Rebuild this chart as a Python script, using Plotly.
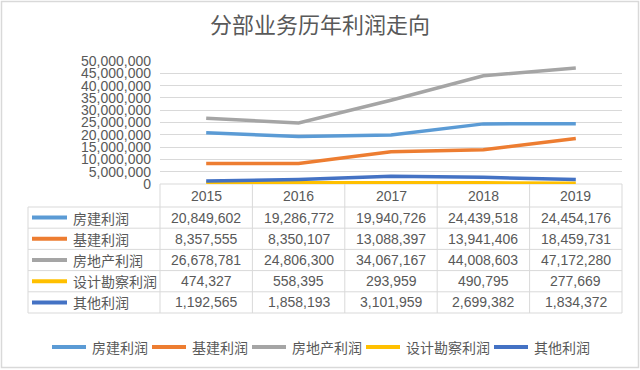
import plotly.graph_objects as go

# ---------------- data ----------------
years = ["2015", "2016", "2017", "2018", "2019"]
series_names = ["房建利润", "基建利润", "房地产利润", "设计勘察利润", "其他利润"]
fangjian = [20849602, 19286772, 19940726, 24439518, 24454176]
jijian = [8357555, 8350107, 13088397, 13941406, 18459731]
fangdichan = [26678781, 24806300, 34067167, 44008603, 47172280]
sheji = [474327, 558395, 293959, 490795, 277669]
qita = [1192565, 1858193, 3101959, 2699382, 1834372]
y_ticks = list(range(0, 50000001, 5000000))
title_text = "分部业务历年利润走向"

series_values = [fangjian, jijian, fangdichan, sheji, qita]
colors = ["#5B9BD5", "#ED7D31", "#A5A5A5", "#FFC000", "#4472C4"]

# ---------------- geometry (pixels) ----------------
FW, FH = 640, 370
PL, PR, PT, PB = 160, 622, 61, 184
TEXT = "#595959"
GRID = "#d9d9d9"
NUMFONT = "Liberation Sans, Arial, Noto Sans CJK SC"
CJKFONT = "Noto Sans CJK SC, Liberation Sans"


def fx(px):
    return (px - PL) / (PR - PL)


def fy(py):
    return (PB - py) / (PB - PT)


fig = go.Figure()
for name, vals, col in zip(series_names, series_values, colors):
    fig.add_trace(go.Scatter(
        x=list(range(len(years))), y=vals, name=name, mode="lines",
        line=dict(color=col, width=3.5), hoverinfo="skip", showlegend=False,
    ))

shapes = []
annotations = []

# table geometry
ncol = len(years)
col_edges = [PL + i * (PR - PL) / ncol for i in range(ncol + 1)]
label_left = 28
header_top, header_bottom = 184, 207
row_h = 21.2
row_edges = [header_bottom + i * row_h for i in range(len(series_names) + 1)]
table_bottom = row_edges[-1]


def hline(y, x0, x1):
    shapes.append(dict(type="line", xref="paper", yref="paper",
                       x0=fx(x0), x1=fx(x1), y0=fy(y), y1=fy(y),
                       line=dict(color=GRID, width=1), layer="below"))


def vline(x, y0, y1):
    shapes.append(dict(type="line", xref="paper", yref="paper",
                       x0=fx(x), x1=fx(x), y0=fy(y0), y1=fy(y1),
                       line=dict(color=GRID, width=1), layer="below"))


def swatch(x0, x1, y, col):
    shapes.append(dict(type="line", xref="paper", yref="paper",
                       x0=fx(x0), x1=fx(x1), y0=fy(y), y1=fy(y),
                       line=dict(color=col, width=4)))


def label(x, y, text, anchor="left", family=CJKFONT):
    annotations.append(dict(xref="paper", yref="paper", x=fx(x), y=fy(y),
                            text=text, showarrow=False, xanchor=anchor,
                            yanchor="middle",
                            font=dict(size=14, color=TEXT, family=family)))


hline(header_top, PL, PR)
for y in row_edges:
    hline(y, label_left, PR)
for x in col_edges:
    vline(x, header_top, table_bottom)
vline(label_left, header_bottom, table_bottom)

# header years
for i, yr in enumerate(years):
    cx = (col_edges[i] + col_edges[i + 1]) / 2
    label(cx, (header_top + header_bottom) / 2, yr, "center", NUMFONT)

# rows
for r, (name, vals, col) in enumerate(zip(series_names, series_values, colors)):
    cy = (row_edges[r] + row_edges[r + 1]) / 2
    swatch(32, 67, cy, col)
    label(71, cy, name)
    for i, v in enumerate(vals):
        cx = (col_edges[i] + col_edges[i + 1]) / 2
        label(cx, cy, f"{v:,}", "center", NUMFONT)

# bottom legend (drawn manually, one row)
leg_y = 347
x = 52
for name, col in zip(series_names, colors):
    swatch(x, x + 34, leg_y, col)
    label(x + 38, leg_y, name)
    x += 34 + 4 + 14 * len(name) + 6

# outer chart border
shapes.append(dict(type="rect", xref="paper", yref="paper",
                   x0=fx(1.5), x1=fx(638.5), y0=fy(1.5), y1=fy(367.5),
                   line=dict(color=GRID, width=1.5), fillcolor="rgba(0,0,0,0)",
                   layer="below"))

fig.update_layout(
    width=FW, height=FH,
    margin=dict(l=PL, r=FW - PR, t=PT, b=FH - PB, autoexpand=False),
    paper_bgcolor="white", plot_bgcolor="white",
    title=dict(text=title_text, x=0.5, xref="container", xanchor="center",
               y=1 - 25 / FH, yref="container", yanchor="middle",
               font=dict(size=22, color=TEXT, family=CJKFONT)),
    xaxis=dict(range=[-0.5, len(years) - 0.5], showgrid=False, zeroline=False,
               showticklabels=False, showline=False, fixedrange=True),
    yaxis=dict(range=[0, 50000000], tickvals=y_ticks, tickformat=",",
               showgrid=True, gridcolor=GRID, gridwidth=1, zeroline=False,
               showline=False, ticks="", ticklabelstandoff=8,
               tickfont=dict(size=14, color=TEXT, family=NUMFONT)),
    showlegend=False,
    shapes=shapes, annotations=annotations,
)

fig.write_html(
    "out.html",
    config={"displayModeBar": False},
    post_script="document.body.style.margin='0';document.body.style.overflow='hidden';",
)
